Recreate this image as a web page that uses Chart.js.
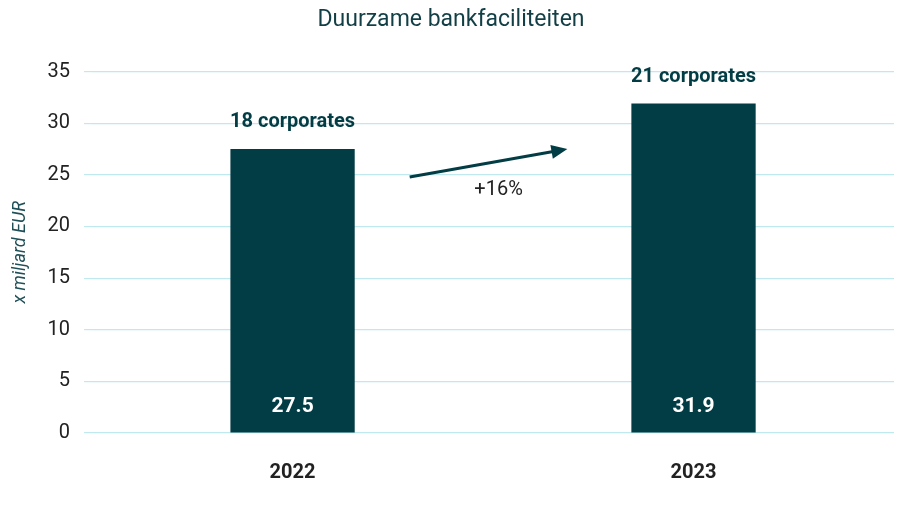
<!DOCTYPE html>
<html><head><meta charset="utf-8">
<script src="https://cdn.jsdelivr.net/npm/chart.js@4"></script>
<style>html,body{margin:0;padding:0;background:#fff}#w{width:900px;height:511px}</style>
</head><body><div id="w"><canvas id="c"></canvas></div>
<script>
const categories = ["2022", "2023"];
const values = [27.5, 31.9];
const topLabels = ["18 corporates", "21 corporates"];
const yTicks = [0, 5, 10, 15, 20, 25, 30, 35];
const growthLabel = "+16%";
const dark = "#023d45";

const labelPlugin = {
  id: "labels",
  afterDatasetsDraw(chart) {
    const ctx = chart.ctx, meta = chart.getDatasetMeta(0), y = chart.scales.y;
    ctx.save();
    ctx.textAlign = "center";
    meta.data.forEach((bar, i) => {
      ctx.fillStyle = dark;
      ctx.font = "bold 20px Roboto, 'Open Sans', sans-serif";
      ctx.textBaseline = "bottom";
      ctx.fillText(topLabels[i], bar.x, bar.y - 17);
      ctx.fillStyle = "#fff";
      ctx.font = "bold 21px Roboto, 'Open Sans', sans-serif";
      ctx.textBaseline = "middle";
      ctx.fillText(String(values[i]), bar.x, y.getPixelForValue(0) - 26);
    });
    const b0 = meta.data[0], b1 = meta.data[1];
    const x0 = b0.x + b0.width / 2 + 55, y0 = y.getPixelForValue(24.8);
    const x1 = b1.x - b1.width / 2 - 64, y1 = y.getPixelForValue(27.5);
    ctx.strokeStyle = dark; ctx.fillStyle = dark; ctx.lineWidth = 3;
    const ang = Math.atan2(y1 - y0, x1 - x0);
    ctx.beginPath(); ctx.moveTo(x0, y0);
    ctx.lineTo(x1 - 10 * Math.cos(ang), y1 - 10 * Math.sin(ang)); ctx.stroke();
    ctx.beginPath(); ctx.moveTo(x1, y1);
    ctx.lineTo(x1 - 16 * Math.cos(ang) + 7 * Math.sin(ang), y1 - 16 * Math.sin(ang) - 7 * Math.cos(ang));
    ctx.lineTo(x1 - 16 * Math.cos(ang) - 7 * Math.sin(ang), y1 - 16 * Math.sin(ang) + 7 * Math.cos(ang));
    ctx.closePath(); ctx.fill();
    ctx.fillStyle = "#222"; ctx.font = "20px Roboto, 'Open Sans', sans-serif";
    ctx.textBaseline = "middle";
    ctx.fillText(growthLabel, (x0 + x1) / 2 + 10, y.getPixelForValue(23.5));
    ctx.restore();
  }
};

new Chart(document.getElementById("c"), {
  type: "bar",
  data: { labels: categories, datasets: [{ data: values, backgroundColor: dark, barPercentage: 0.62, categoryPercentage: 0.5 }] },
  options: {
    responsive: true, maintainAspectRatio: false, animation: false,
    layout: { padding: { left: 8, right: 6, top: 0, bottom: 6 } },
    plugins: {
      legend: { display: false }, tooltip: { enabled: false },
      title: { display: true, text: "Duurzame bankfaciliteiten", color: "#123f45",
        font: { family: "Roboto, 'Open Sans', sans-serif", size: 23, weight: "normal" }, padding: { top: 6, bottom: 38 } }
    },
    scales: {
      x: { grid: { display: false }, border: { display: false },
        ticks: { color: "#222", font: { family: "Roboto, sans-serif", size: 20, weight: "bold" }, padding: 20 } },
      y: { min: 0, max: 35, border: { display: false },
        afterBuildTicks(s) { s.ticks = yTicks.map(v => ({ value: v })); },
        grid: { color: "#bfe8ef", lineWidth: 1.2 },
        ticks: { color: "#222", font: { family: "Roboto, sans-serif", size: 20 }, padding: 14 },
        title: { display: true, text: "x miljard EUR", color: "#1f4f57",
          font: { family: "Roboto, sans-serif", size: 18, style: "italic" }, padding: 2 } }
    }
  },
  plugins: [labelPlugin]
});
</script></body></html>
